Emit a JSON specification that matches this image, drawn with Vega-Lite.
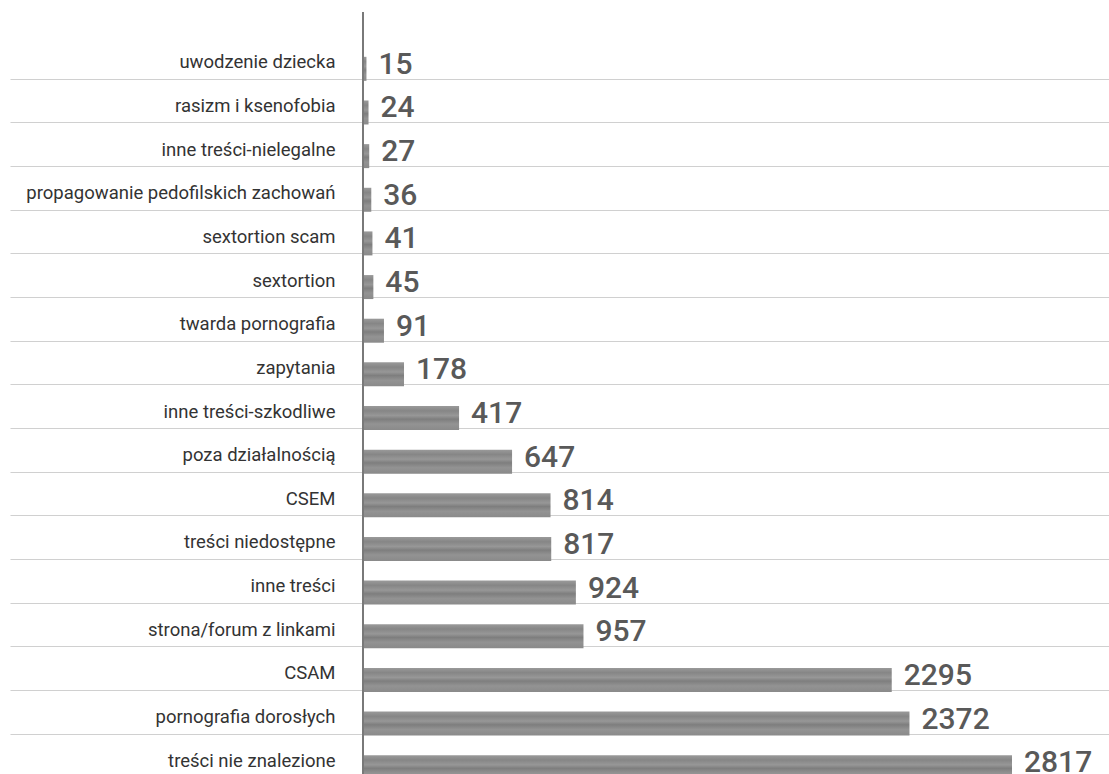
{
  "$schema": "https://vega.github.io/schema/vega-lite/v6.json",
  "autosize": {"type": "none"},
  "width": 746,
  "height": 762,
  "padding": {"left": 363, "top": 12, "right": 0, "bottom": 0},
  "background": "white",
  "config": {"view": {"stroke": null}},
  "data": {"values": [
    {"kategoria": "uwodzenie dziecka", "liczba": 15},
    {"kategoria": "rasizm i ksenofobia", "liczba": 24},
    {"kategoria": "inne treści-nielegalne", "liczba": 27},
    {"kategoria": "propagowanie pedofilskich zachowań", "liczba": 36},
    {"kategoria": "sextortion scam", "liczba": 41},
    {"kategoria": "sextortion", "liczba": 45},
    {"kategoria": "twarda pornografia", "liczba": 91},
    {"kategoria": "zapytania", "liczba": 178},
    {"kategoria": "inne treści-szkodliwe", "liczba": 417},
    {"kategoria": "poza działalnością", "liczba": 647},
    {"kategoria": "CSEM", "liczba": 814},
    {"kategoria": "treści niedostępne", "liczba": 817},
    {"kategoria": "inne treści", "liczba": 924},
    {"kategoria": "strona/forum z linkami", "liczba": 957},
    {"kategoria": "CSAM", "liczba": 2295},
    {"kategoria": "pornografia dorosłych", "liczba": 2372},
    {"kategoria": "treści nie znalezione", "liczba": 2817}
  ]},
  "layer": [
    {
      "mark": {
        "type": "bar", "height": 24, "yOffset": 7,
        "color": {
          "gradient": "linear", "x1": 0, "y1": 0, "x2": 0, "y2": 1,
          "stops": [
            {"offset": 0, "color": "#9a9a9a"},
            {"offset": 0.2, "color": "#868686"},
            {"offset": 0.4, "color": "#979797"},
            {"offset": 0.55, "color": "#7e7e7e"},
            {"offset": 0.75, "color": "#939393"},
            {"offset": 1, "color": "#8a8a8a"}
          ]
        }
      },
      "encoding": {
        "y": {
          "field": "kategoria", "type": "nominal", "sort": null,
          "scale": {"range": [28, 770]},
          "axis": {
            "title": null, "domain": false,
            "ticks": true, "tickSize": 353, "tickColor": "#d0d0d0", "tickWidth": 1.2,
            "grid": true, "gridColor": "#d0d0d0", "gridWidth": 1.2,
            "tickOffset": 17, "labelOffset": -17, "labelPadding": -325,
            "labelFont": "Roboto", "labelFontSize": 18.5,
            "labelColor": "#333333", "labelLimit": 0
          }
        },
        "x": {"field": "liczba", "type": "quantitative", "scale": {"domain": [0, 3238], "nice": false}, "axis": null}
      }
    },
    {
      "mark": {"type": "text", "align": "left", "baseline": "middle", "dx": 12, "dy": 3, "font": "Roboto", "fontSize": 30, "fontWeight": 500, "color": "#595959"},
      "encoding": {
        "y": {"field": "kategoria", "type": "nominal", "sort": null},
        "x": {"field": "liczba", "type": "quantitative"},
        "text": {"field": "liczba", "type": "quantitative"}
      }
    },
    {
      "mark": {"type": "rule", "color": "#7a7a7a", "strokeWidth": 1.5},
      "encoding": {"x": {"datum": 0}}
    }
  ]
}
